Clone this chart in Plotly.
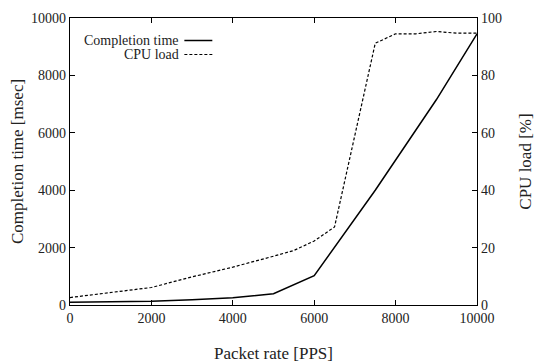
import plotly.graph_objects as go

rate_ct = [0, 2000, 3000, 4000, 5000, 6000, 7500, 9000, 10000]
completion_ms = [100, 130, 180, 250, 390, 1020, 4000, 7150, 9450]

rate_cpu = [0, 2000, 3000, 4000, 5000, 5500, 6000, 6500, 7500, 8000, 8500, 9000, 9500, 10000]
cpu_load = [2.6, 6.1, 9.8, 13.2, 17.0, 19.0, 22.3, 27.2, 91.2, 94.5, 94.5, 95.3, 94.7, 94.7]

x_ticks = [0, 2000, 4000, 6000, 8000, 10000]
y_ticks = [0, 2000, 4000, 6000, 8000, 10000]
y2_ticks = [0, 20, 40, 60, 80, 100]

FONT = "Liberation Serif"

fig = go.Figure()
fig.add_trace(go.Scatter(x=rate_ct, y=completion_ms, mode="lines", name="Completion time",
                         line=dict(color="black", width=1.5), showlegend=False))
fig.add_trace(go.Scatter(x=rate_cpu, y=cpu_load, mode="lines", name="CPU load", yaxis="y2",
                         line=dict(color="black", width=1.2, dash="3px,2px"), showlegend=False))

tf = dict(family=FONT, size=14, color="#222")
axis_common = dict(showgrid=False, zeroline=False, showline=True, linecolor="black", linewidth=1.2,
                   ticks="inside", ticklen=5, tickcolor="black", tickfont=tf)

fig.update_layout(
    width=539, height=363,
    margin=dict(l=69.5, r=62, t=18, b=58, autoexpand=False),
    plot_bgcolor="white", paper_bgcolor="white",
    font=dict(family=FONT, color="#222", size=14),
    xaxis=dict(range=[0, 10000], tickvals=x_ticks, ticktext=[str(v) for v in x_ticks], mirror="ticks",
               title=dict(text="Packet rate [PPS]", font=dict(family=FONT, size=17, color="#222"), standoff=27),
               **axis_common),
    yaxis=dict(range=[0, 10000], tickvals=y_ticks, ticktext=[str(v) for v in y_ticks],
               title=dict(text="Completion time [msec]", font=dict(family=FONT, size=17, color="#222"), standoff=3),
               **axis_common),
    yaxis2=dict(range=[0, 100], tickvals=y2_ticks, ticktext=[str(v) for v in y2_ticks],
                overlaying="y", side="right",
                title=dict(text="CPU load [%]", font=dict(family=FONT, size=17, color="#222"), standoff=18),
                **axis_common),
)

# legend (gnuplot-style: text right-aligned, sample after)
leg = [("Completion time", 40.5, "solid", 1.5), ("CPU load", 54.5, "3px,2px", 1.2)]
for text, ypx, dash, w in leg:
    yp = 1 - (ypx - 18) / (363 - 18 - 58)
    x_text = (180 - 69.5) / (539 - 69.5 - 62)
    x0 = (184 - 69.5) / (539 - 69.5 - 62)
    x1 = (212 - 69.5) / (539 - 69.5 - 62)
    fig.add_annotation(x=x_text, y=yp, xref="paper", yref="paper", text=text, showarrow=False,
                       xanchor="right", yanchor="middle", borderpad=0,
                       font=dict(family=FONT, size=14, color="#222"))
    fig.add_shape(type="line", xref="paper", yref="paper", x0=x0, x1=x1, y0=yp, y1=yp,
                  line=dict(color="black", width=w, dash=dash))

fig.write_html("out.html", config={"displayModeBar": False},
               post_script="document.body.style.margin='0';document.body.style.overflow='hidden';")
